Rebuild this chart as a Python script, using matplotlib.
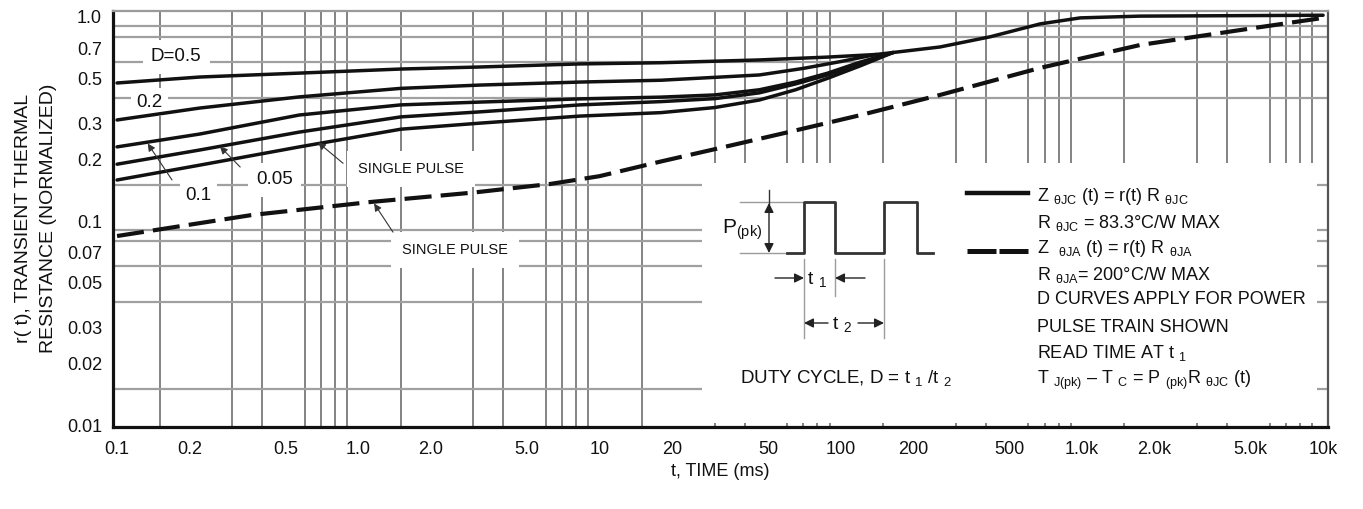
import numpy as np
import matplotlib
matplotlib.use('Agg')
import matplotlib.pyplot as plt
from matplotlib.patches import Rectangle
from matplotlib.ticker import FixedLocator, NullFormatter

plt.rcParams['font.family'] = ['Liberation Sans', 'DejaVu Sans']
plt.rcParams['mathtext.fontset'] = 'custom'
plt.rcParams['mathtext.rm'] = 'Liberation Sans'
plt.rcParams['mathtext.it'] = 'Liberation Sans:italic'
plt.rcParams['mathtext.default'] = 'regular'

# =============================================
#       DATOS (t en ms)
# =============================================

t_d05 = [0.1, 0.22, 0.57, 1.5, 3.2, 8.3, 18, 46, 88, 140]
r_d05 = [0.475, 0.508, 0.531, 0.556, 0.569, 0.589, 0.597, 0.616, 0.636, 0.655]

t_d02 = [0.1, 0.22, 0.57, 1.5, 3.2, 8.3, 18, 46, 70, 100, 140]
r_d02 = [0.313, 0.358, 0.406, 0.447, 0.464, 0.480, 0.490, 0.520, 0.560, 0.605, 0.655]

t_low = [0.1, 0.22, 0.57, 1.5, 3.2, 8.3, 18, 30, 46, 65, 88, 120, 165]
r_d01 = [0.231, 0.267, 0.331, 0.371, 0.383, 0.397, 0.405, 0.415, 0.440, 0.480, 0.530, 0.600, 0.670]
r_d005 = [0.190, 0.223, 0.273, 0.324, 0.343, 0.371, 0.385, 0.398, 0.425, 0.470, 0.520, 0.590, 0.670]
r_single = [0.159, 0.188, 0.231, 0.282, 0.302, 0.327, 0.340, 0.360, 0.392, 0.440, 0.500, 0.575, 0.670]

# tramo comun de las curvas D (pulso unico, ya convergidas)
t_tail = [140, 165, 258, 417, 671, 984, 1740, 10000]
r_tail = [0.655, 0.670, 0.713, 0.800, 0.925, 0.990, 1.010, 1.020]

# curva a ambiente (trazos)
t_ja = [0.1, 0.36, 1.12, 3.0, 6.24, 10, 18, 30, 60, 120, 258, 671, 1742, 4530, 10000]
r_ja = [0.0845, 0.107, 0.124, 0.138, 0.152, 0.166, 0.196, 0.225, 0.272, 0.330, 0.415,
        0.563, 0.729, 0.863, 0.99]

x_ticks = [0.1, 0.2, 0.5, 1, 2, 5, 10, 20, 50, 100, 200, 500, 1000, 2000, 5000, 10000]
x_labels = ['0.1', '0.2', '0.5', '1.0', '2.0', '5.0', '10', '20', '50', '100', '200',
            '500', '1.0k', '2.0k', '5.0k', '10k']
y_ticks = [0.01, 0.02, 0.03, 0.05, 0.07, 0.1, 0.2, 0.3, 0.5, 0.7, 1.0]
y_labels = ['0.01', '0.02', '0.03', '0.05', '0.07', '0.1', '0.2', '0.3', '0.5', '0.7', '1.0']

grid_mult = [1, 1.5, 2, 3, 4, 5, 6, 7, 8, 9]

# =============================================
#                   GRAFICA
# =============================================

W, H = 1363, 509
def fp(x, y):
    # pixel (desde arriba) -> fraccion de figura
    return x / W, 1 - y / H

fig = plt.figure(figsize=(W / 100, H / 100), dpi=100)
ax = fig.add_axes([113 / W, 1 - 427 / H, (1328 - 113) / W, (427 - 11) / H])
ax.set_xscale('log')
ax.set_yscale('log')
ax.set_xlim(0.0962, 10480)
ax.set_ylim(0.0098, 1.07)

xgrid = [m * d for d in [0.1, 1, 10, 100, 1000] for m in grid_mult] + [10000]
ygrid = [m * d for d in [0.01, 0.1] for m in grid_mult] + [1.0]
ax.xaxis.set_major_locator(FixedLocator(x_ticks))
ax.xaxis.set_minor_locator(FixedLocator(xgrid))
ax.yaxis.set_major_locator(FixedLocator(y_ticks))
ax.yaxis.set_minor_locator(FixedLocator(ygrid))
ax.set_xticklabels(x_labels)
ax.set_yticklabels(y_labels)
ax.xaxis.set_minor_formatter(NullFormatter())
ax.yaxis.set_minor_formatter(NullFormatter())
ax.tick_params(which='both', length=0, labelcolor='#111111')
ax.tick_params(axis='x', pad=10, labelsize=13)
ax.tick_params(axis='y', pad=8, labelsize=13)
ax.set_axisbelow(True)
ax.grid(axis='x', which='minor', color='#7a7a7a', lw=1.3)
ax.grid(axis='y', which='minor', color='#a0a0a0', lw=1.6)

for s in ['left', 'bottom']:
    ax.spines[s].set_linewidth(2.3)
    ax.spines[s].set_color('#111111')
ax.spines['top'].set_color('#9a9a9a')
ax.spines['top'].set_linewidth(1.6)
ax.spines['right'].set_color('#555555')
ax.spines['right'].set_linewidth(1.6)

# recuadro blanco de la leyenda
x0, y0 = fp(702, 423)
ax.add_patch(Rectangle((x0, y0), (1317 - 702) / W, (423 - 163) / H,
                       transform=fig.transFigure, facecolor='white',
                       edgecolor='none', zorder=1))

# curvas
lw = 2.5
kw = dict(color='#111111', lw=lw, solid_capstyle='round', solid_joinstyle='round', zorder=3)
ax.plot(t_d05, r_d05, **kw)
ax.plot(t_d02, r_d02, **kw)
for r in [r_d01, r_d005, r_single]:
    ax.plot(t_low, r, **kw)
ax.plot(t_tail, r_tail, **kw)
ax.plot(t_ja, r_ja, color='#111111', lw=3.0, dashes=(6.5, 2.2), zorder=3)

# etiquetas de curvas
lab = dict(ha='center', va='center', zorder=1.5, color='#111111')
ax.text(0.1757, 0.637, 'D=0.5', fontsize=13.5,
        bbox=dict(fc='white', ec='none', pad=6), **lab)
ax.text(0.136, 0.383, '0.2', fontsize=13.5, bbox=dict(fc='white', ec='none', pad=4), **lab)
ax.text(0.217, 0.134, '0.1', fontsize=13.5, bbox=dict(fc='white', ec='none', pad=4), **lab)
ax.text(0.448, 0.159, '0.05', fontsize=13.5, bbox=dict(fc='white', ec='none', pad=6), **lab)
ax.text(1.655, 0.180, 'SINGLE PULSE', fontsize=10.5,
        bbox=dict(fc='white', ec='none', pad=8), **lab)
ax.text(2.52, 0.0721, 'SINGLE PULSE', fontsize=10.5,
        bbox=dict(fc='white', ec='none', pad=8), **lab)

arr = dict(arrowstyle='-|>', color='#333333', lw=0.8, mutation_scale=11,
           shrinkA=0, shrinkB=0)
for tip, tail in [((0.134, 0.240), (0.169, 0.159)),
                  ((0.267, 0.232), (0.324, 0.184)),
                  ((0.681, 0.243), (0.865, 0.192)),
                  ((1.163, 0.122), (1.393, 0.0883))]:
    ax.annotate('', xy=tip, xytext=tail, arrowprops=arr, zorder=4)

# diagrama del tren de pulsos
gray = '#9c9c9c'
def seg(xs, ys, **kw):
    pts = [fp(x, y) for x, y in zip(xs, ys)]
    ax.plot([p[0] for p in pts], [p[1] for p in pts], transform=fig.transFigure,
            clip_on=False, **kw)

seg([740, 804], [202, 202], color=gray, lw=1.0, zorder=4)
seg([740, 787], [253, 253], color=gray, lw=1.0, zorder=4)
seg([787, 804, 804, 835, 835, 884, 884, 917, 917, 933],
    [253, 253, 202, 202, 253, 253, 202, 202, 253, 253],
    color='#333333', lw=2.0, zorder=5)
seg([804, 804], [259, 338], color=gray, lw=1.0, zorder=4)
seg([835, 835], [259, 296], color=gray, lw=1.0, zorder=4)
seg([884, 884], [259, 338], color=gray, lw=1.0, zorder=4)
seg([769, 769], [190, 204], color='#333333', lw=1.0, zorder=4)

parr = dict(arrowstyle='-|>', color='#222222', lw=1.0, mutation_scale=14,
            shrinkA=0, shrinkB=0)
darr = dict(arrowstyle='<|-|>', color='#222222', lw=1.0, mutation_scale=14,
            shrinkA=0, shrinkB=0)
ax.annotate('', xy=fp(769, 203), xytext=fp(769, 253), xycoords='figure fraction',
            arrowprops=darr, zorder=5)
for tip, tail in [((804, 278), (775, 278)), ((835, 278), (865, 278)),
                  ((804, 323), (828, 323)), ((884, 323), (858, 323))]:
    ax.annotate('', xy=fp(*tip), xytext=fp(*tail), xycoords='figure fraction',
                arrowprops=parr, zorder=5)

fig.text(*fp(722, 234), r'P$_{(pk)}$', fontsize=15, va='baseline', color='#111111')
fig.text(*fp(807, 284), r't $_1$', fontsize=14, va='baseline', color='#111111')
fig.text(*fp(832, 329), r't $_2$', fontsize=14, va='baseline', color='#111111')
fig.text(*fp(740, 383), r'DUTY CYCLE, D = t $_1$ /t $_2$', fontsize=13.5,
         va='baseline', color='#111111')

# leyenda
seg([967, 1028], [193, 193], color='#111111', lw=3.2, zorder=5)
seg([967, 1028], [251, 251], color='#111111', lw=3.6, dashes=(5.8, 0.6), zorder=5)
legend_lines = [
    (195, r'Z $_{θJC}$ (t) = r(t) R $_{θJC}$'),
    (222, r'R $_{θJC}$ = 83.3°C/W MAX'),
    (247, r'Z  $_{θJA}$ (t) = r(t) R $_{θJA}$'),
    (274, r'R $_{θJA}$= 200°C/W MAX'),
    (298, 'D CURVES APPLY FOR POWER'),
    (326, 'PULSE TRAIN SHOWN'),
    (352, r'READ TIME AT t $_1$'),
    (378, r'T $_{J(pk)}$ – T $_C$ = P $_{(pk)}$R $_{θJC}$ (t)'),
]
for yc, s in legend_lines:
    fig.text(*fp(1037, yc + 6), s, fontsize=13, va='baseline', color='#111111')

# textos de ejes
fig.text(*fp(36, 218), 'r( t), TRANSIENT THERMAL\nRESISTANCE (NORMALIZED)',
         rotation=90, ha='center', va='center', fontsize=14, linespacing=1.6,
         color='#111111')
fig.text(*fp(720, 472), 't, TIME (ms)', ha='center', va='center', fontsize=13,
         color='#111111')

fig.savefig('out.png', dpi=100)
